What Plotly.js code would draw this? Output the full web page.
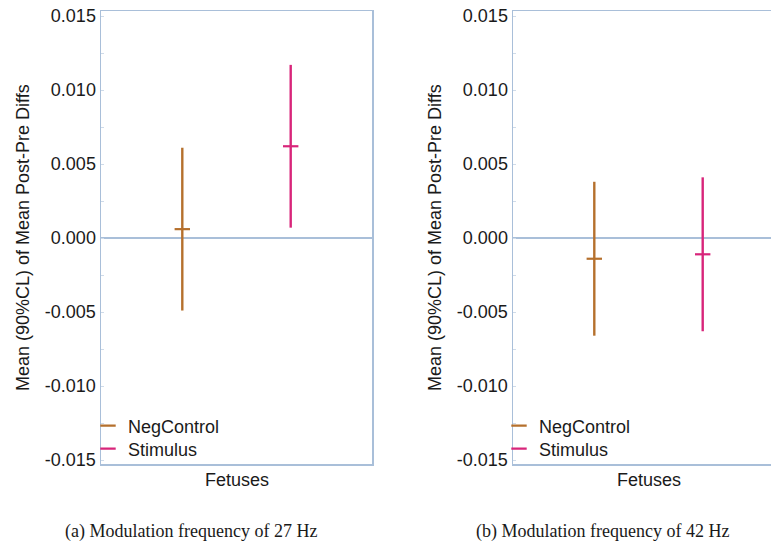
<!DOCTYPE html>
<html>
<head>
<meta charset="utf-8">
<script src="https://cdn.plot.ly/plotly-3.0.1.min.js"></script>
<style>
html, body { margin: 0; padding: 0; overflow: hidden; background: #fff; }
#chart { width: 790px; height: 542px; }
</style>
</head>
<body>
<div id="chart"></div>
<script>
// ---- data ----
const categories = ['NegControl', 'Stimulus'];
const mean27  = [0.0006, 0.0062];
const upper27 = [0.0061, 0.0117];
const lower27 = [-0.0049, 0.0007];
const mean42  = [-0.0014, -0.0011];
const upper42 = [0.0038, 0.0041];
const lower42 = [-0.0066, -0.0063];
const yTickVals = [-0.015, -0.010, -0.005, 0.000, 0.005, 0.010, 0.015];
const yTickText = ['-0.015', '-0.010', '-0.005', '0.000', '0.005', '0.010', '0.015'];
const yTitle = 'Mean (90%CL) of Mean Post-Pre Diffs';
const xTitle = 'Fetuses';
const captions = ['(a) Modulation frequency of 27 Hz', '(b) Modulation frequency of 42 Hz'];
const colors = ['#b5702d', '#d8257a'];

const W = 790, H = 542;
const px = v => v / W;
const py = v => 1 - v / H;

function makeTraces(means, uppers, lowers, xa, ya, legs) {
  return categories.map((c, i) => ({
    type: 'scatter',
    mode: 'markers',
    name: c,
    x: [c],
    y: [means[i]],
    xaxis: xa,
    yaxis: ya,
    legend: legs[i],
    marker: { symbol: 'line-ew', size: 11, color: colors[i], line: { color: colors[i], width: 2.2 } },
    error_y: {
      type: 'data', symmetric: false,
      array: [uppers[i] - means[i]],
      arrayminus: [means[i] - lowers[i]],
      color: colors[i], thickness: 2.4, width: 0
    },
    hoverinfo: 'skip'
  }));
}

const traces = [
  ...makeTraces(mean27, upper27, lower27, 'x', 'y', ['legend', 'legend2']),
  ...makeTraces(mean42, upper42, lower42, 'x2', 'y2', ['legend3', 'legend4'])
];

const frame = '#a9bfd9';
const font = { family: '"Liberation Sans", Arial, sans-serif', size: 18, color: '#1a1a1a' };

function yaxisDef(anchor) {
  return {
    anchor: anchor,
    domain: [py(464), py(11)],
    range: [-0.01527, 0.01534],
    tickvals: yTickVals, ticktext: yTickText,
    ticks: '', showgrid: false,
    showline: true, mirror: true, linecolor: frame, linewidth: 1.5,
    zeroline: true, zerolinecolor: frame, zerolinewidth: 2,
    tickfont: font,
    minor: { ticks: 'inside', ticklen: 3, tickcolor: '#cfdbe9', dtick: 0.0025, showgrid: false },
    fixedrange: true
  };
}
function xaxisDef(anchor, dom) {
  return {
    anchor: anchor,
    domain: dom,
    type: 'category',
    categoryorder: 'array', categoryarray: categories,
    range: [-0.75, 1.75],
    showticklabels: false, ticks: '', showgrid: false,
    showline: true, mirror: true, linecolor: frame, linewidth: 1.5,
    zeroline: false, fixedrange: true
  };
}

function legendAt(x, y) {
  return {
    font: font, bgcolor: 'rgba(0,0,0,0)', borderwidth: 0,
    xanchor: 'left', yanchor: 'middle', x: px(x), y: py(y),
    itemclick: false, itemdoubleclick: false
  };
}

const layout = {
  width: W, height: H,
  margin: { l: 0, r: 0, t: 0, b: 0 },
  paper_bgcolor: '#ffffff', plot_bgcolor: '#ffffff',
  font: font,
  showlegend: true,
  xaxis: xaxisDef('y', [px(101), px(372)]),
  yaxis: yaxisDef('x'),
  xaxis2: xaxisDef('y2', [px(513), px(784)]),
  yaxis2: yaxisDef('x2'),
  legend: legendAt(88, 426),
  legend2: legendAt(88, 449),
  legend3: legendAt(499, 426),
  legend4: legendAt(499, 449),
  annotations: [
    { text: yTitle, xref: 'paper', yref: 'paper', x: px(23), y: py(238), textangle: -90, showarrow: false, font: font, xanchor: 'center', yanchor: 'middle' },
    { text: yTitle, xref: 'paper', yref: 'paper', x: px(435), y: py(238), textangle: -90, showarrow: false, font: font, xanchor: 'center', yanchor: 'middle' },
    { text: xTitle, xref: 'paper', yref: 'paper', x: px(236.5), y: py(480), showarrow: false, font: font, xanchor: 'center', yanchor: 'middle' },
    { text: xTitle, xref: 'paper', yref: 'paper', x: px(648.5), y: py(480), showarrow: false, font: font, xanchor: 'center', yanchor: 'middle' },
    { text: captions[0], xref: 'paper', yref: 'paper', x: px(191), y: py(531), showarrow: false, font: { family: '"Liberation Serif", "Times New Roman", serif', size: 18, color: '#1a1a1a' }, xanchor: 'center', yanchor: 'middle' },
    { text: captions[1], xref: 'paper', yref: 'paper', x: px(602.5), y: py(531), showarrow: false, font: { family: '"Liberation Serif", "Times New Roman", serif', size: 18, color: '#1a1a1a' }, xanchor: 'center', yanchor: 'middle' }
  ]
};

Plotly.newPlot('chart', traces, layout, { staticPlot: true, displayModeBar: false });
</script>
</body>
</html>
